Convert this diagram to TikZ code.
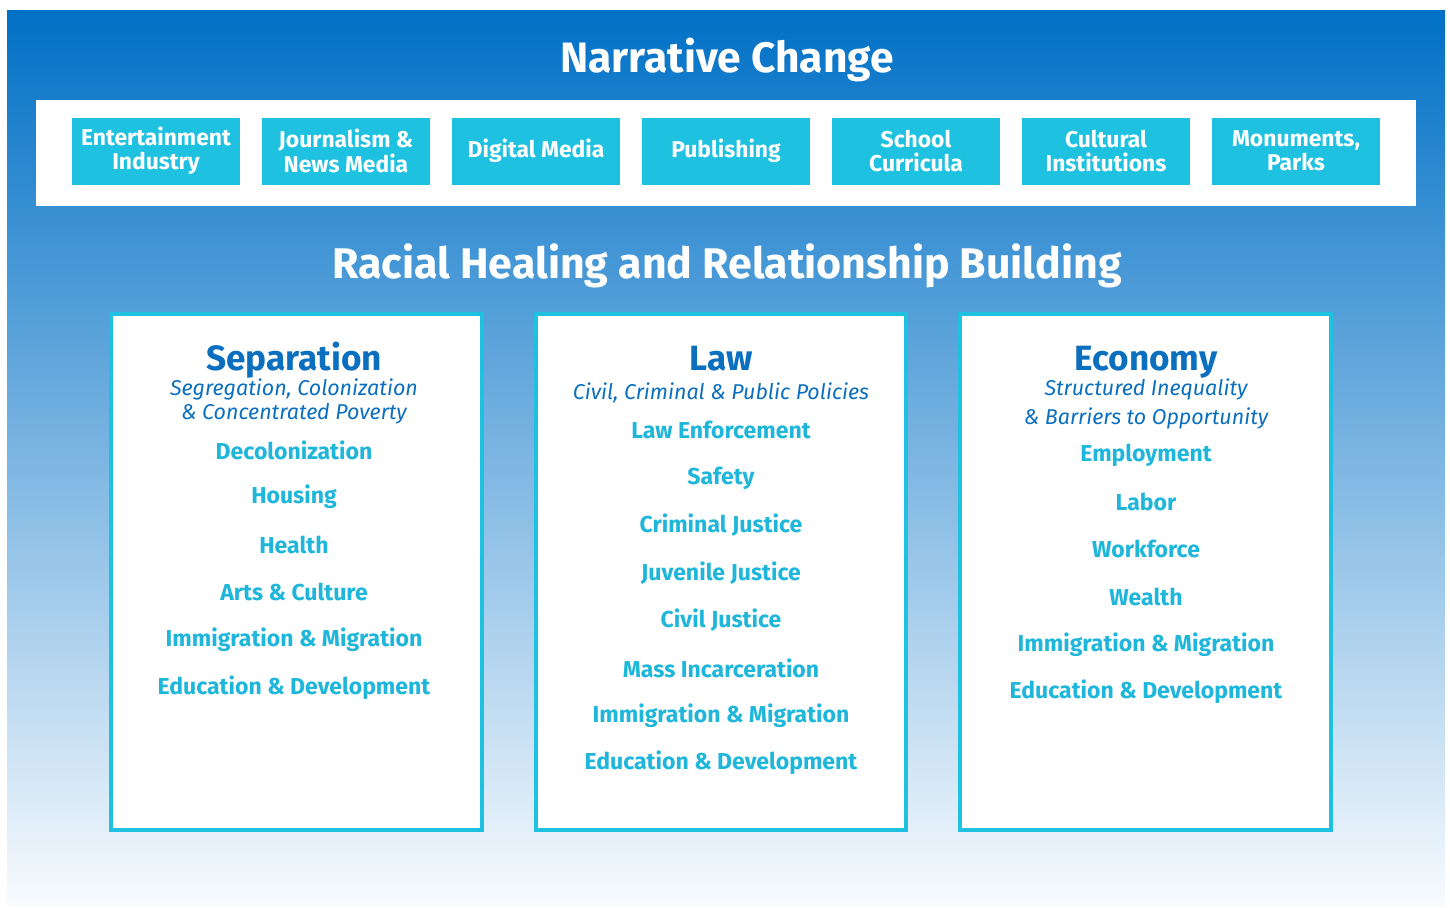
\documentclass[tikz,border=0pt]{standalone}
\usepackage{fontspec}
\setmainfont{Fira Sans}
\usepackage{tikz}
\usetikzlibrary{positioning}
\definecolor{topblue}{HTML}{0070C6}
\definecolor{midblue}{HTML}{7DB5E2}
\definecolor{lowblue}{HTML}{F8FBFE}
\definecolor{boxcyan}{HTML}{1FC1E0}
\definecolor{headblue}{HTML}{0B6FBF}
\definecolor{itemcyan}{HTML}{1EB6DA}
\tikzset{
  bigtitle/.style={text=white, font=\bfseries\fontsize{24.2}{28}\selectfont},
  mediabox/.style={fill=boxcyan, text=white, minimum width=3.36cm, minimum height=1.34cm, inner sep=0pt, align=center, font=\bfseries\fontsize{13}{13.8}\selectfont},
  panel/.style={draw=boxcyan, fill=white, line width=2.2pt},
  panelhead/.style={text=headblue, anchor=base, font=\bfseries\fontsize{20}{22}\selectfont},
  panelsub/.style={text=headblue, align=center, font=\itshape\fontsize{12.2}{13.6}\selectfont},
  paneltopic/.style={text=itemcyan, font=\bfseries\fontsize{13.1}{15}\selectfont}
}
\begin{document}
\begin{tikzpicture}[x=0.02cm,y=-0.02cm]
\useasboundingbox (0,0) rectangle (1450,907);
\shade[top color=topblue, middle color=midblue, bottom color=lowblue] (7,10) rectangle (1445,905);
\node[bigtitle] (narrative) at (727,60) {Narrative Change};
\fill[white] (36,100) rectangle (1416,206);
\node[mediabox] (ent) at (156,151) {Entertainment\\Industry};
\node[mediabox] (jour) at (346,151) {Journalism \&\\News Media};
\node[mediabox] (digital) at (536,151) {Digital Media};
\node[mediabox] (pub) at (726,151) {Publishing};
\node[mediabox] (school) at (916,151) {School\\Curricula};
\node[mediabox] (cultural) at (1106,151) {Cultural\\Institutions};
\node[mediabox] (monuments) at (1296,151) {Monuments,\\Parks};
\node[bigtitle, font=\bfseries\fontsize{24.4}{28}\selectfont] (healing) at (727,266) {Racial Healing and Relationship Building};

\draw[panel] (111,314) rectangle (482,830);
\draw[panel] (536,314) rectangle (906,830);
\draw[panel] (960,314) rectangle (1331,830);

\node[panelhead] (sep) at (294,370) {Separation};
\node[panelsub] (sepsub) at (294,401) {Segregation, Colonization\\\& Concentrated Poverty};
\foreach \name/\y/\txt in {decol/450/Decolonization, housing/497/Housing, health/545/Health, arts/592/Arts \& Culture, immA/640/Immigration \& Migration, eduA/688/Education \& Development}
  \node[paneltopic] (\name) at (294,\y) {\txt};

\node[panelhead] (law) at (721,370) {Law};
\node[panelsub] (lawsub) at (721,393) {Civil, Criminal \& Public Policies};
\foreach \name/\y/\txt in {enforce/430/Law Enforcement, safety/478/Safety, crim/525/Criminal Justice, juv/573/Juvenile Justice, civil/620/Civil Justice, mass/668/Mass Incarceration, immB/716/Immigration \& Migration, eduB/763/Education \& Development}
  \node[paneltopic] (\name) at (721,\y) {\txt};

\node[panelhead] (eco) at (1146,370) {Economy};
\node[panelsub, font=\itshape\fontsize{12.2}{16.5}\selectfont] (ecosub) at (1146,404) {Structured Inequality\\\& Barriers to Opportunity};
\foreach \name/\y/\txt in {employ/455/Employment, labor/502/Labor, work/549/Workforce, wealth/597/Wealth, immC/645/Immigration \& Migration, eduC/692/Education \& Development}
  \node[paneltopic] (\name) at (1146,\y) {\txt};
\end{tikzpicture}
\end{document}
